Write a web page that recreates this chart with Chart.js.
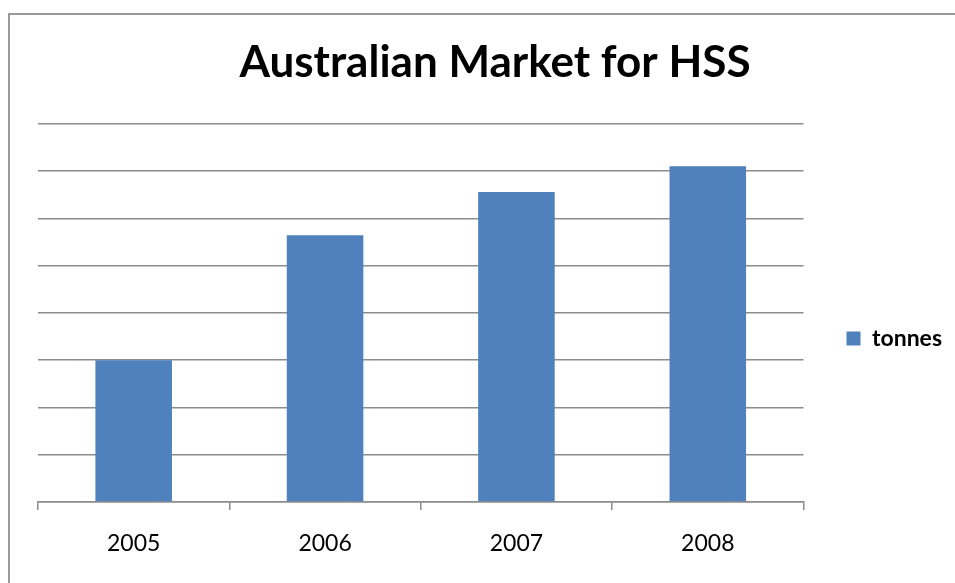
<!DOCTYPE html>
<html>
<head>
<meta charset="utf-8">
<script src="https://cdn.jsdelivr.net/npm/chart.js@4"></script>
<style>
  body { margin: 0; background: #fff; }
  #wrap { position: relative; width: 955px; height: 583px; overflow: hidden; }
  #frame { position: absolute; left: 8px; top: 13px; width: 1000px; height: 700px;
           border-left: 2px solid #9a9a9a; border-top: 2px solid #9a9a9a; }
  canvas { position: absolute; left: 0; top: 0; }
</style>
</head>
<body>
<div id="wrap">
  <div id="frame"></div>
  <canvas id="hssChart" width="955" height="583"></canvas>
</div>
<script>
// data
var years = ["2005", "2006", "2007", "2008"];
var tonnes = [3.0, 5.64, 6.56, 7.1];
var seriesName = "tonnes";
var chartTitle = "Australian Market for HSS";

// the legend sits level with the middle of the plot, push it down a bit
var legendShift = {
  id: 'legendShift',
  afterLayout: function(chart) {
    var lg = chart.legend;
    if (lg) {
      lg.top += 47;
      lg.bottom += 47;
    }
  }
};

var ctx = document.getElementById("hssChart").getContext('2d');
var hssChart = new Chart(ctx, {
  type: 'bar',
  data: {
    labels: years,
    datasets: [{
      label: seriesName,
      data: tonnes,
      backgroundColor: '#4f81bd',
      borderWidth: 0,
      barPercentage: 0.4,
      categoryPercentage: 1.0
    }]
  },
  options: {
    responsive: false,
    animation: false,
    layout: {
      padding: { left: 38, right: 3, top: 0, bottom: 0 }
    },
    plugins: {
      title: {
        display: true,
        text: chartTitle,
        color: '#000',
        font: { family: 'Lato', size: 44, weight: 'bold' },
        padding: { top: 36, bottom: 35 }
      },
      legend: {
        position: 'right',
        labels: {
          boxWidth: 14,
          boxHeight: 14,
          color: '#000',
          padding: 43,
          font: { family: 'Lato', size: 23, weight: 'bold' }
        }
      },
      tooltip: { enabled: false }
    },
    scales: {
      x: {
        grid: {
          drawOnChartArea: false,
          drawTicks: true,
          tickLength: 8,
          color: '#8c8c8c',
          lineWidth: 1.5
        },
        border: { color: '#8c8c8c', width: 1.5 },
        ticks: {
          color: '#000',
          padding: 20,
          font: { family: 'Lato', size: 23 }
        },
        afterFit: function(scale) { scale.height = 81; }
      },
      y: {
        min: 0,
        max: 8,
        ticks: { stepSize: 1, display: false },
        grid: { color: '#8c8c8c', lineWidth: 1.5, drawTicks: false },
        border: { display: false },
        afterFit: function(scale) { scale.width = 0; }
      }
    }
  },
  plugins: [legendShift]
});
</script>
</body>
</html>
